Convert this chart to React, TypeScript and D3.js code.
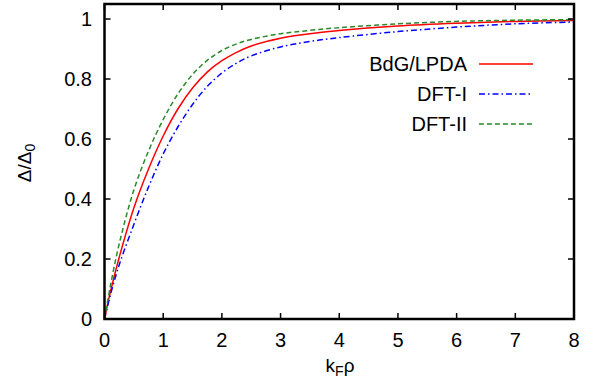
import React from "react";
import * as d3 from "d3";

const xs = [0, 0.1, 0.25, 0.5, 0.75, 1.0, 1.25, 1.5, 1.75, 2.0, 2.25, 2.5, 3.0, 3.5, 4.0, 5.0, 6.0, 7.0, 8.0];
const bdg = [0, 0.09, 0.205, 0.37, 0.5, 0.61, 0.7, 0.77, 0.823, 0.861, 0.889, 0.91, 0.936, 0.951, 0.962, 0.977, 0.986, 0.992, 0.995];
const dft1 = [0, 0.08, 0.18, 0.315, 0.44, 0.55, 0.64, 0.715, 0.775, 0.82, 0.853, 0.877, 0.907, 0.925, 0.938, 0.958, 0.973, 0.984, 0.99];
const dft2 = [0, 0.11, 0.25, 0.43, 0.56, 0.665, 0.75, 0.815, 0.862, 0.895, 0.917, 0.932, 0.951, 0.962, 0.971, 0.984, 0.992, 0.996, 0.998];

const xTicks = [0, 1, 2, 3, 4, 5, 6, 7, 8];
const yTicks = [0, 0.2, 0.4, 0.6, 0.8, 1];

const seriesNames = ["BdG/LPDA", "DFT-I", "DFT-II"];
const seriesValues = [bdg, dft1, dft2];
const seriesColors = ["#ff0000", "#0000ff", "#2a8a2a"];
const seriesDash = ["none", "6,3,1.5,3", "5,3"];

const W = 595;
const H = 383;
const L = 104.5, R = 574, T = 4, B = 319;

export default function App() {
  const x = d3.scaleLinear().domain([0, 8]).range([L, R]);
  const y = d3.scaleLinear().domain([0, 1.05]).range([B, T]);
  const line = d3
    .line<number>()
    .x((_, i) => x(xs[i]))
    .y((d) => y(d))
    .curve(d3.curveCatmullRom.alpha(0.5));
  const font = "'Liberation Sans', Arial, Helvetica, sans-serif";
  const fs = 20;
  const tl = 6;
  return (
    <svg width={W} height={H} style={{ position: "absolute", left: 0, top: 0 }} fontFamily={font}>
      <rect width={W} height={H} fill="#fff" />
      {seriesValues.map((vals, k) => (
        <path
          key={k}
          d={line(vals) || ""}
          fill="none"
          stroke={seriesColors[k]}
          strokeWidth={1.5}
          strokeDasharray={seriesDash[k]}
        />
      ))}
      {xTicks.map((t) => (
        <g key={"xt" + t}>
          <line x1={x(t)} x2={x(t)} y1={B} y2={B - tl} stroke="#000" strokeWidth={1.5} />
          <line x1={x(t)} x2={x(t)} y1={T} y2={T + tl} stroke="#000" strokeWidth={1.5} />
          <text x={x(t)} y={347} textAnchor="middle" fontSize={fs} fill="#000">
            {t}
          </text>
        </g>
      ))}
      {yTicks.map((t) => (
        <g key={"yt" + t}>
          <line x1={L} x2={L + tl} y1={y(t)} y2={y(t)} stroke="#000" strokeWidth={1.5} />
          <line x1={R} x2={R - tl} y1={y(t)} y2={y(t)} stroke="#000" strokeWidth={1.5} />
          <text x={92} y={y(t)} dy="0.35em" textAnchor="end" fontSize={fs} fill="#000">
            {t}
          </text>
        </g>
      ))}
      <rect x={L} y={T} width={R - L} height={B - T} fill="none" stroke="#000" strokeWidth={2.5} />
      {seriesNames.map((n, k) => (
        <g key={"lg" + k}>
          <text x={467} y={64 + 30 * k} dy="0.35em" textAnchor="end" fontSize={fs} fill="#000">
            {n}
          </text>
          <line
            x1={479}
            x2={533}
            y1={64 + 30 * k}
            y2={64 + 30 * k}
            stroke={seriesColors[k]}
            strokeWidth={1.5}
            strokeDasharray={seriesDash[k]}
          />
        </g>
      ))}
      <text x={340} y={372} textAnchor="middle" fontSize={19} fill="#000">
        k<tspan fontSize={14} dy={4}>F</tspan>
        <tspan dy={-4}>ρ</tspan>
      </text>
      <text transform="translate(31,163) rotate(-90)" textAnchor="middle" fontSize={19} fill="#000">
        Δ/Δ<tspan fontSize={14} dy={4}>0</tspan>
      </text>
    </svg>
  );
}
